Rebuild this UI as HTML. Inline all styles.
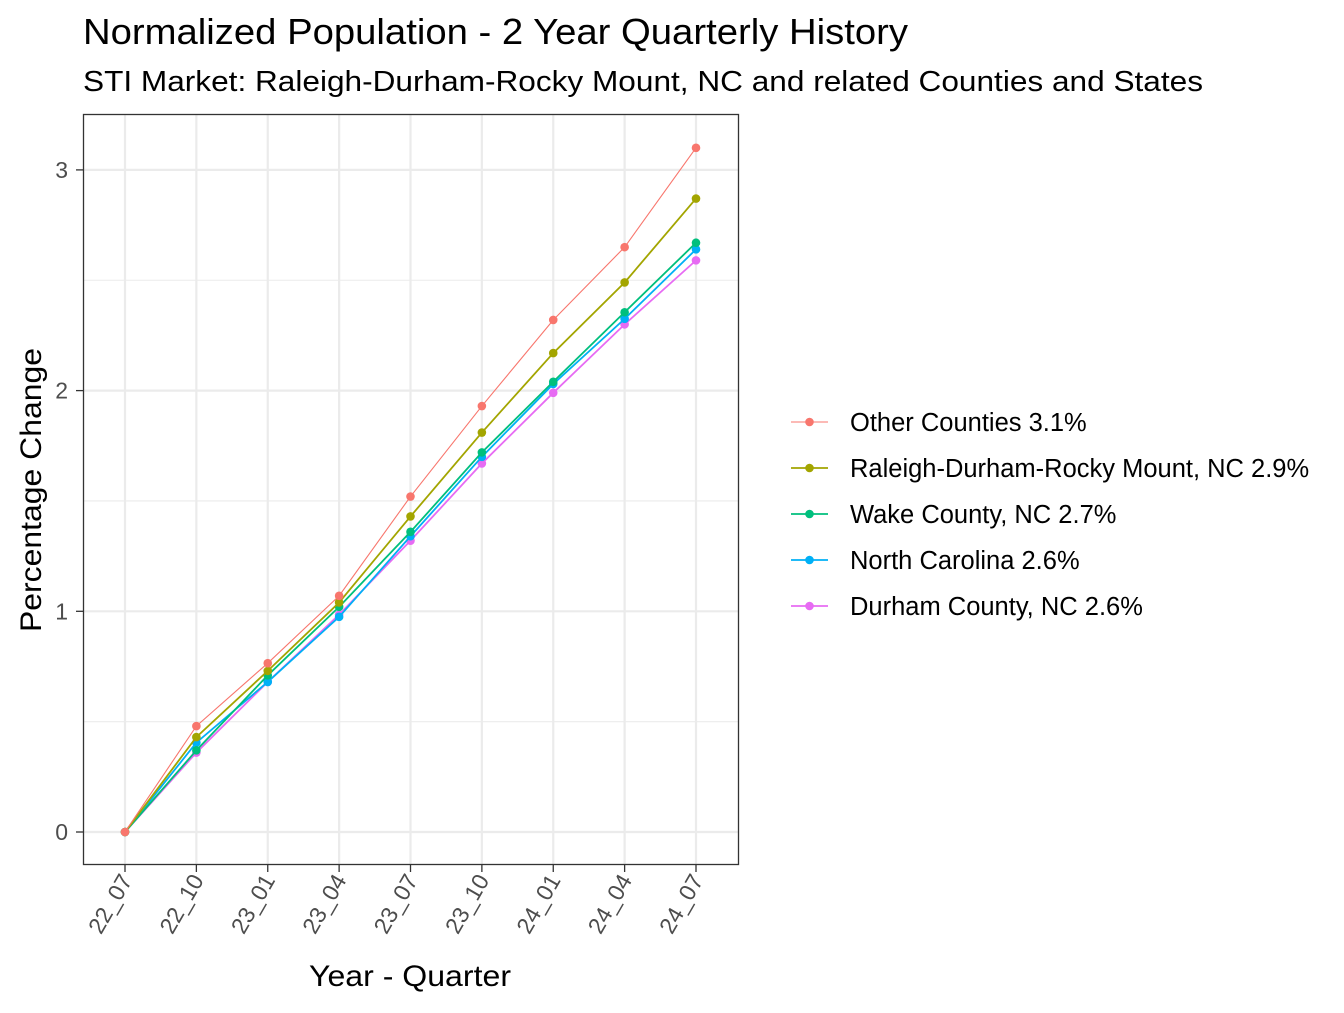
<!DOCTYPE html>
<html><head><meta charset="utf-8"><style>
body{margin:0;background:#fff;font-family:"Liberation Sans",Arial,sans-serif}
</style></head><body>
<svg id="chart" width="1344" height="1008" xmlns="http://www.w3.org/2000/svg" font-family="Liberation Sans, Arial, sans-serif">
<rect width="1344" height="1008" fill="#fff"/>
<text x="83" y="44" font-size="36" textLength="825" lengthAdjust="spacingAndGlyphs" fill="#000">Normalized Population - 2 Year Quarterly History</text>
<text x="83" y="91" font-size="29" textLength="1120" lengthAdjust="spacingAndGlyphs" fill="#000">STI Market: Raleigh-Durham-Rocky Mount, NC and related Counties and States</text>
<g id="grid"></g><g id="series"></g>
<rect x="83.5" y="114.5" width="655" height="750" fill="none" stroke="#333" stroke-width="1.3"/>
<g id="axes"></g>
<text transform="translate(41,490) rotate(-90)" text-anchor="middle" font-size="30" textLength="284" lengthAdjust="spacingAndGlyphs">Percentage Change</text>
<text x="410" y="986" text-anchor="middle" font-size="30" textLength="202" lengthAdjust="spacingAndGlyphs">Year - Quarter</text>
<g id="legend"></g>
</svg>
<script>
const categories=["22_07","22_10","23_01","23_04","23_07","23_10","24_01","24_04","24_07"];
const seriesNames=["Other Counties 3.1%","Raleigh-Durham-Rocky Mount, NC 2.9%","Wake County, NC 2.7%","North Carolina 2.6%","Durham County, NC 2.6%"];
const otherCounties=[0,0.48,0.765,1.07,1.52,1.93,2.32,2.65,3.10];
const raleighDurham=[0,0.43,0.73,1.04,1.43,1.81,2.17,2.49,2.87];
const wakeCounty=[0,0.37,0.71,1.02,1.36,1.72,2.04,2.355,2.67];
const northCarolina=[0,0.405,0.68,0.975,1.34,1.70,2.03,2.325,2.64];
const durhamCounty=[0,0.36,0.68,0.985,1.32,1.67,1.99,2.30,2.59];
const yTicks=[0,1,2,3];
const colors=["#F8766D","#A3A500","#00BF7D","#00B0F6","#E76BF3"];
const NS="http://www.w3.org/2000/svg";
const x=i=>125+i*(696-125)/(categories.length-1);
const y=v=>832-v*220.7;
function mk(p,t,a){const e=document.createElementNS(NS,t);for(const k in a)e.setAttribute(k,a[k]);p.appendChild(e);return e;}
const grid=document.getElementById('grid'),axes=document.getElementById('axes');
for(let v=-0.5;v<=3.5;v+=0.5){const yy=y(v);if(yy<114||yy>865)continue;
 const l=mk(grid,'line',{x1:83,x2:739,y1:yy,y2:yy,stroke:'#ebebeb','stroke-width':Number.isInteger(v)?2.2:1.1});
 }
categories.forEach((c,i)=>{
 const l=mk(grid,'line',{x1:x(i),x2:x(i),y1:114,y2:865,stroke:'#ebebeb','stroke-width':2.2});
 
 const t=mk(axes,'line',{x1:x(i),x2:x(i),y1:865,y2:872,stroke:'#333','stroke-width':1.3});
 
 const tx=mk(axes,'text',{transform:`translate(${x(i)+8},${880}) rotate(-60)`,'text-anchor':'end','font-size':23,fill:'#4d4d4d'});
 tx.textContent=c;
});
yTicks.forEach(v=>{
 const t=mk(axes,'line',{x1:76,x2:83,y1:y(v),y2:y(v),stroke:'#333','stroke-width':1.3});
 
 const tx=mk(axes,'text',{x:68,y:y(v)+8,'text-anchor':'end','font-size':23,fill:'#4d4d4d'});
 tx.textContent=v;
});
const data=[otherCounties,raleighDurham,wakeCounty,northCarolina,durhamCounty];
const sg=document.getElementById('series'),lg=document.getElementById('legend');
const order=[4,3,2,1,0];
order.forEach(s=>{
 const g=mk(sg,'g',{});
 const pl=mk(g,'polyline',{points:data[s].map((v,i)=>x(i)+','+y(v)).join(' '),fill:'none',stroke:colors[s],'stroke-width':s==0?1.1:1.8});
 
 data[s].forEach((v,i)=>{const c=mk(g,'circle',{cx:x(i),cy:y(v),r:4.3,fill:colors[s]});
  });
});
seriesNames.forEach((n,s)=>{
 const yy=422+s*46;
 const g=mk(lg,'g',{});
 mk(g,'line',{x1:791,x2:828,y1:yy,y2:yy,stroke:colors[s],'stroke-width':s==0?1.1:1.8});
 mk(g,'circle',{cx:809.5,cy:yy,r:4.3,fill:colors[s]});
 const t=mk(g,'text',{x:850,y:yy+9,'font-size':25.5,fill:'#000'});t.textContent=n;
});
</script>
</body></html>
